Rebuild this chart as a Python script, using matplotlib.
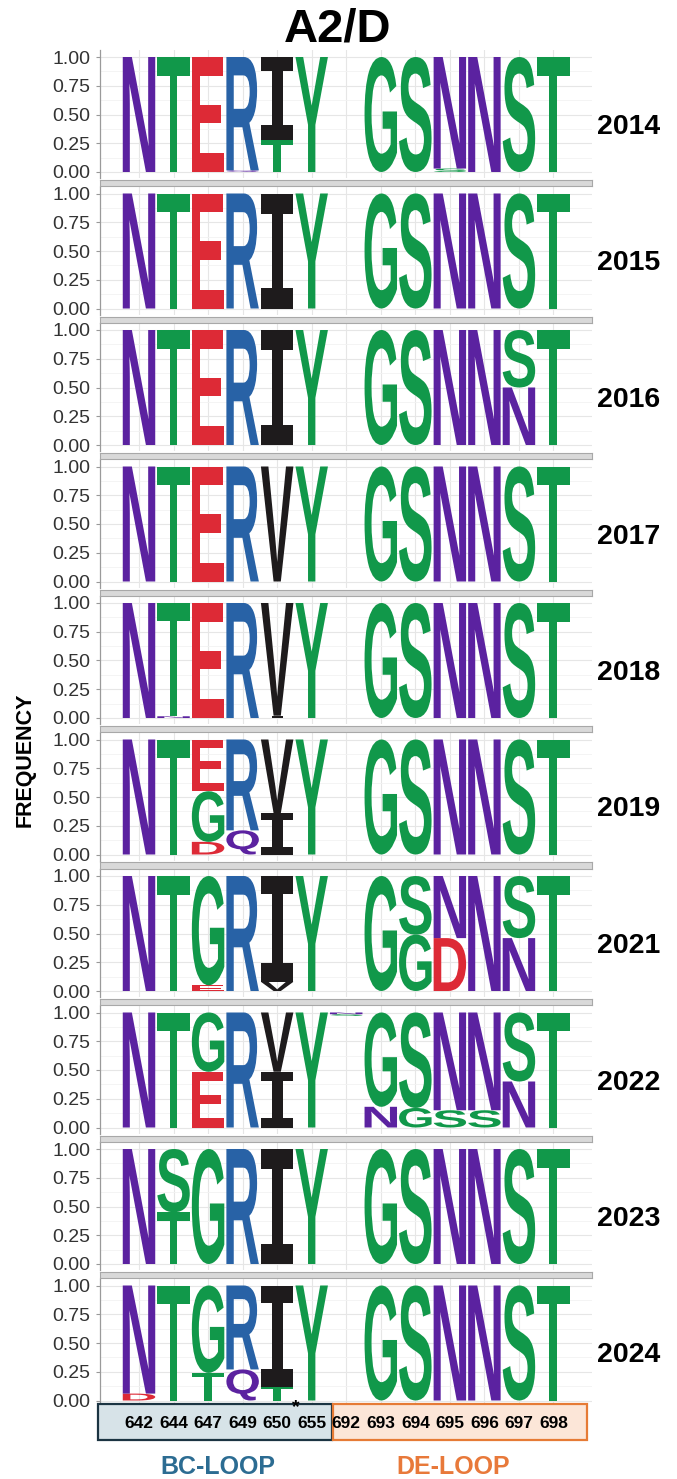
import matplotlib
matplotlib.use('Agg')
import matplotlib.pyplot as plt
from matplotlib.textpath import TextPath
from matplotlib.font_manager import FontProperties
from matplotlib.patches import PathPatch, Rectangle
from matplotlib.transforms import Affine2D, blended_transform_factory

# ---------------- data ----------------
positions = ['642', '644', '647', '649', '650', '655',
             '692', '693', '694', '695', '696', '697', '698']
years = ['2014', '2015', '2016', '2017', '2018', '2019', '2021', '2022', '2023', '2024']

# each column: list of (residue, frequency) from bottom to top; '-' = gap (not drawn)
logo_2014 = [[('N', 1)], [('T', 1)], [('E', 1)], [('Q', .015), ('R', .985)],
             [('T', .28), ('I', .72)], [('Y', 1)], [('-', 1)], [('G', 1)], [('S', 1)],
             [('S', .03), ('N', .97)], [('N', 1)], [('S', 1)], [('T', 1)]]
logo_2015 = [[('N', 1)], [('T', 1)], [('E', 1)], [('R', 1)], [('I', 1)], [('Y', 1)],
             [('-', 1)], [('G', 1)], [('S', 1)], [('N', 1)], [('N', 1)], [('S', 1)], [('T', 1)]]
logo_2016 = [[('N', 1)], [('T', 1)], [('E', 1)], [('R', 1)], [('I', 1)], [('Y', 1)],
             [('-', 1)], [('G', 1)], [('S', 1)], [('N', 1)], [('N', 1)],
             [('N', .5), ('S', .5)], [('T', 1)]]
logo_2017 = [[('N', 1)], [('T', 1)], [('E', 1)], [('R', 1)], [('V', 1)], [('Y', 1)],
             [('-', 1)], [('G', 1)], [('S', 1)], [('N', 1)], [('N', 1)], [('S', 1)], [('T', 1)]]
logo_2018 = [[('N', 1)], [('N', .015), ('T', .985)], [('E', 1)], [('R', 1)],
             [('I', .02), ('V', .98)], [('Y', 1)], [('-', 1)], [('G', 1)], [('S', 1)],
             [('N', 1)], [('N', 1)], [('S', 1)], [('T', 1)]]
logo_2019 = [[('N', 1)], [('T', 1)], [('D', .11), ('G', .44), ('E', .45)],
             [('Q', .21), ('R', .79)], [('I', .36), ('V', .64)], [('Y', 1)], [('-', 1)],
             [('G', 1)], [('S', 1)], [('N', 1)], [('N', 1)], [('S', 1)], [('T', 1)]]
logo_2021 = [[('N', 1)], [('T', 1)], [('E', .05), ('G', .95)], [('R', 1)],
             [('V', .08), ('I', .92)], [('Y', 1)], [('-', 1)], [('G', 1)],
             [('G', .49), ('S', .51)], [('D', .46), ('N', .54)], [('N', 1)],
             [('N', .46), ('S', .54)], [('T', 1)]]
logo_2022 = [[('N', 1)], [('T', 1)], [('E', .485), ('G', .515)], [('R', 1)],
             [('I', .485), ('V', .515)], [('Y', 1)], [('-', .97), ('S', .015), ('N', .015)],
             [('N', .18), ('G', .82)], [('G', .17), ('S', .83)], [('S', .15), ('N', .85)],
             [('S', .15), ('N', .85)], [('N', .40), ('S', .60)], [('T', 1)]]
logo_2023 = [[('N', 1)], [('T', .45), ('S', .55)], [('G', 1)], [('R', 1)], [('I', 1)],
             [('Y', 1)], [('-', 1)], [('G', 1)], [('S', 1)], [('N', 1)], [('N', 1)],
             [('S', 1)], [('T', 1)]]
logo_2024 = [[('D', .06), ('N', .94)], [('T', 1)], [('T', .24), ('G', .76)],
             [('Q', .27), ('R', .73)], [('T', .12), ('I', .88)], [('Y', 1)], [('-', 1)],
             [('G', 1)], [('S', 1)], [('N', 1)], [('N', 1)], [('S', 1)], [('T', 1)]]
logos = [logo_2014, logo_2015, logo_2016, logo_2017, logo_2018,
         logo_2019, logo_2021, logo_2022, logo_2023, logo_2024]

yticks = [0, 0.25, 0.5, 0.75, 1.0]
ytick_labels = ['0.00', '0.25', '0.50', '0.75', '1.00']

# ---------------- style ----------------
GREEN, PURPLE, BLUE, RED, BLACK = '#11984A', '#5B22A0', '#2862A6', '#DD2A36', '#1E1B1C'
color_map = {}
for c in 'GSTYC':
    color_map[c] = GREEN
for c in 'NQ':
    color_map[c] = PURPLE
for c in 'KRH':
    color_map[c] = BLUE
for c in 'DE':
    color_map[c] = RED

FP = FontProperties(family='Liberation Sans', weight='bold')
FP_I = FontProperties(family='DejaVu Sans Mono', weight='bold')
_glyphs = {}


def glyph(ch):
    if ch not in _glyphs:
        prop = FP_I if ch == 'I' else FP
        _glyphs[ch] = TextPath((0, 0), ch, size=1, prop=prop)
    return _glyphs[ch]


def draw_letter(ax, ch, x, y0, h, width=0.94):
    tp = glyph(ch)
    bb = tp.get_extents()
    t = (Affine2D().translate(-bb.x0, -bb.y0)
         .scale(width / bb.width, h / bb.height)
         .translate(x - width / 2, y0))
    ax.add_patch(PathPatch(t.transform_path(tp), fc=color_map.get(ch, BLACK),
                           ec='none', lw=0, zorder=3))


W, H = 677, 1479
fig = plt.figure(figsize=(W / 100, H / 100), dpi=100)

AX_L, AX_R = 100, 592
PERIOD = 136.5
UNIT = 115.0
n = len(positions)
col0_px, col_step = 139.0, 34.54
xlim = (1 - (col0_px - AX_L) / col_step, 1 + (AX_R - col0_px) / col_step)
ylim = (-6 / UNIT, 1 + 7 / UNIT)

axes = []
for i, (year, logo) in enumerate(zip(years, logos)):
    bottom_px = 178 + PERIOD * i
    top_px = bottom_px - 128
    ax = fig.add_axes([AX_L / W, 1 - bottom_px / H, (AX_R - AX_L) / W, 128 / H])
    ax.set_xlim(*xlim)
    ax.set_ylim(*ylim)
    for k, col in enumerate(logo):
        y0 = 0.0
        for res, f in col:
            if res != '-' and f > 0:
                draw_letter(ax, res, k + 1, y0, f)
            y0 += f
    ax.set_xticks(range(1, n + 1))
    ax.set_xticklabels([])
    ax.tick_params(axis='x', length=0)
    ax.set_yticks(yticks)
    ax.set_yticklabels(ytick_labels, fontsize=14, color='#333333',
                       family='Liberation Sans')
    ax.set_yticks([0.125, 0.375, 0.625, 0.875], minor=True)
    ax.tick_params(axis='y', which='major', length=3, width=0.8, color='#999999', pad=4)
    ax.tick_params(axis='y', which='minor', length=0)
    ax.grid(True, which='major', color='#E6E6E6', lw=0.8, zorder=0)
    ax.grid(True, which='minor', axis='y', color='#F2F2F2', lw=0.6, zorder=0)
    ax.set_axisbelow(True)
    for s in ['top', 'right', 'bottom']:
        ax.spines[s].set_visible(False)
    ax.spines['left'].set_color('#9A9A9A')
    ax.spines['left'].set_linewidth(0.9)
    axes.append(ax)
    # facet strip
    if i > 0:
        sax = fig.add_axes([AX_L / W, 1 - (top_px - 0.5) / H, (AX_R - AX_L) / W, 6 / H])
        sax.set_facecolor('#D9D9D9')
        sax.set_xticks([])
        sax.set_yticks([])
        for s in sax.spines.values():
            s.set_color('#A8A8A8')
            s.set_linewidth(0.8)

# overlay in pixel coordinates for annotations (on top of the panels)
ov = fig.add_axes([0, 0, 1, 1])
ov.set_xlim(0, W)
ov.set_ylim(H, 0)
ov.axis('off')
ov.patch.set_visible(False)

for i, year in enumerate(years):
    ov.text(629, 127 + PERIOD * i, year, fontsize=20.5, fontweight='bold',
            ha='center', va='center', family='Liberation Sans', color='black')

# title and y label
ov.text(338, 30, 'A2/D', fontsize=34, fontweight='bold', ha='center', va='center',
        family='Liberation Sans')
ov.text(25, 760, 'FREQUENCY', fontsize=15.5, fontweight='bold', rotation=90,
        ha='center', va='center', family='Liberation Sans')

# position label boxes
ov.add_patch(Rectangle((98, 1404), 234, 36, fc='#D7E3E8', ec='#1B3442', lw=1.6, zorder=2))
ov.add_patch(Rectangle((333, 1404), 254, 36, fc='#FCE6D8', ec='#E67B36', lw=1.6, zorder=2))
tr = blended_transform_factory(axes[-1].transData, ov.transData)
for k, p in enumerate(positions):
    ov.text(k + 1, 1424, p, transform=tr, fontsize=12.5, fontweight='bold',
            ha='center', va='center', family='Liberation Sans', zorder=3)
ov.text(5.55, 1408, '*', transform=tr, fontsize=14, fontweight='bold', color='black',
        ha='center', va='center', family='Liberation Sans', zorder=5)
ov.text(218, 1467, 'BC-LOOP', fontsize=18, fontweight='bold', color='#2C6C92',
        ha='center', va='center', family='Liberation Sans')
ov.text(453, 1467, 'DE-LOOP', fontsize=18, fontweight='bold', color='#E8793A',
        ha='center', va='center', family='Liberation Sans')

fig.savefig('out.png', dpi=100)
